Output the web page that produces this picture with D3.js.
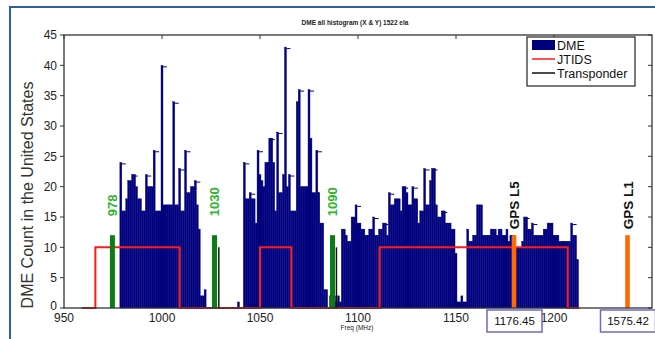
<!DOCTYPE html>
<html><head><meta charset="utf-8">
<script src="https://cdn.jsdelivr.net/npm/d3@7"></script>
<style>body{margin:0;background:#fff;} svg{display:block;font-family:"Liberation Sans",Arial,sans-serif;}</style>
</head><body><svg id="c" width="655" height="339"></svg>
<script>
// ---------- data ----------
const dmeStartFreq = 960; // MHz of first DME bin (1 MHz bins)
const dmeCounts = [
  0,0,0,0,0,0,0,0,0,0,            // 960-969
  0,0,0,0,0,0,0,0,0,24,           // 970-979
  16,16,18,21,21,22,22,20,18,18,  // 980-989
  16,16,22,20,20,20,26,16,16,16,  // 990-999
  40,17,17,17,17,17,34,17,17,23,  // 1000-1009
  16,16,26,19,19,20,20,21,17,13,  // 1010-1019
  2,2,3,0,0,0,0,0,0,0,            // 1020-1029
  0,0,0,0,0,0,0,0,0,1,            // 1030-1039
  0,0,24,18,18,19,18,18,14,26,    // 1040-1049
  22,21,20,24,24,28,28,24,16,29,  // 1050-1059
  19,19,22,43,20,22,16,16,16,34,  // 1060-1069
  36,20,20,20,20,36,28,19,19,26,  // 1070-1079
  19,14,14,3,3,0,2,0,2,1,         // 1080-1089
  2,1,13,13,12,11,11,15,15,17,    // 1090-1099
  14,14,13,13,12,12,13,13,15,12,  // 1100-1109
  12,13,13,14,14,12,19,17,17,18,  // 1110-1119
  18,18,16,20,20,19,17,17,20,18,  // 1120-1129
  18,14,16,16,23,17,17,21,23,23,  // 1130-1139
  17,15,15,16,16,14,14,14,13,13,  // 1140-1149
  9,1,1,2,1,1,13,11,11,12,        // 1150-1159
  12,17,17,17,12,12,12,12,13,13,  // 1160-1169
  13,12,13,13,12,12,13,11,12,12,  // 1170-1179
  10,10,10,10,11,15,15,13,13,14,  // 1180-1189
  12,12,12,12,12,13,13,14,14,14,  // 1190-1199
  12,12,12,11,11,11,11,11,11,14,  // 1200-1209
  12,12,8                         // 1210-1212
];
const jtidsFreq  = [959,966,966,1009,1009,1050,1050,1066,1066,1111,1111,1207,1207,1213];
const jtidsLevel = [0,0,10,10,0,0,10,10,0,0,10,10,0,0];
const transponderFreq  = [1029, 1089];
const transponderLevel = [10, 10];
const markerFreq   = [974.7, 1026.8, 1087];
const markerLevel  = [12, 12, 12];
const markerLabels = ["978", "1030", "1090"];
const gpsFreq      = [1179.6, 1237.5];
const gpsLevel     = [12, 12];
const gpsLabels    = ["GPS L5", "GPS L1"];
const gpsBoxLabels = ["1176.45", "1575.42"];
const xTicks = [950, 1000, 1050, 1100, 1150, 1200];
const yTicks = [0, 5, 10, 15, 20, 25, 30, 35, 40, 45];
const titleText = "DME all histogram (X & Y) 1522 ela";
const xLabel = "Freq (MHz)";
const yLabel = "DME Count in the United States";
const legendLabels = ["DME", "JTIDS", "Transponder"];

// ---------- drawing ----------
const svg = d3.select("#c");
const x = d3.scaleLinear().domain([950, 1250]).range([64, 652]);
const y = d3.scaleLinear().domain([0, 45]).range([308, 35]);
const NAVY = "#00007f", RED = "#ff1a1a", GREEN = "#0a7d14", LGREEN = "#2db52d", ORANGE = "#ff6a00";

// outer figure frame (blue)
svg.append("path").attr("d", "M10,339 L10,7 L655,7")
  .attr("fill", "none").attr("stroke", "#2f5f9f").attr("stroke-width", 2);

// title
svg.append("text").attr("x", 355).attr("y", 25).attr("text-anchor", "middle")
  .attr("font-size", 6.5).attr("font-weight", "bold").attr("fill", "#222").text(titleText);

// DME bars
const dme = dmeCounts.map((v, i) => ({ f: dmeStartFreq + i, v }));
svg.append("g").selectAll("rect").data(dme).join("rect")
  .attr("x", d => x(d.f - 0.5)).attr("width", d => x(d.f + 0.5) - x(d.f - 0.5))
  .attr("y", d => y(d.v)).attr("height", d => y(0) - y(d.v))
  .attr("fill", NAVY).attr("stroke", NAVY).attr("stroke-width", 0.4);

// small caps at local peaks
const peaks = dme.filter((d, i) => d.v >= 14 && (i === 0 || d.v > dme[i - 1].v) && (i === dme.length - 1 || d.v >= dme[i + 1].v));
svg.append("g").selectAll("line").data(peaks).join("line")
  .attr("x1", d => x(d.f + 0.5)).attr("x2", d => x(d.f + 0.5) + 4)
  .attr("y1", d => y(d.v) + 1.5).attr("y2", d => y(d.v) + 1.5)
  .attr("stroke", NAVY).attr("stroke-width", 1);

// JTIDS line
const jt = jtidsFreq.map((f, i) => [f, jtidsLevel[i]]);
svg.append("path").datum(jt)
  .attr("d", d3.line().x(d => x(d[0])).y(d => y(d[1])))
  .attr("fill", "none").attr("stroke", RED).attr("stroke-width", 2);

// Transponder lines
svg.append("g").selectAll("line").data(transponderFreq).join("line")
  .attr("x1", d => x(d)).attr("x2", d => x(d))
  .attr("y1", y(0)).attr("y2", (d, i) => y(transponderLevel[i]))
  .attr("stroke", "#111").attr("stroke-width", 1.5);

// green markers
svg.append("g").selectAll("rect").data(markerFreq).join("rect")
  .attr("x", d => x(d) - 2.5).attr("width", 5)
  .attr("y", (d, i) => y(markerLevel[i])).attr("height", (d, i) => y(0) - y(markerLevel[i]))
  .attr("fill", GREEN);
svg.append("g").selectAll("text").data(markerFreq).join("text")
  .attr("transform", (d, i) => `translate(${x(d) + 4.5},${y(markerLevel[i]) - 19}) rotate(-90)`)
  .attr("font-size", 13).attr("font-weight", "bold").attr("fill", LGREEN)
  .text((d, i) => markerLabels[i]);

// GPS markers
svg.append("g").selectAll("rect").data(gpsFreq).join("rect")
  .attr("x", d => x(d) - 2.3).attr("width", 4.6)
  .attr("y", (d, i) => y(gpsLevel[i])).attr("height", (d, i) => y(0) - y(gpsLevel[i]))
  .attr("fill", ORANGE);
svg.append("g").selectAll("text").data(gpsFreq).join("text")
  .attr("transform", (d, i) => `translate(${x(d) + 5},${y(gpsLevel[i]) - 6}) rotate(-90)`)
  .attr("font-size", 13.5).attr("font-weight", "bold").attr("fill", "#111")
  .text((d, i) => gpsLabels[i]);

// plot frame
svg.append("rect").attr("x", x(950)).attr("y", y(45))
  .attr("width", x(1250) - x(950)).attr("height", y(0) - y(45))
  .attr("fill", "none").attr("stroke", "#333").attr("stroke-width", 1.3);

// y ticks + labels
const yt = svg.append("g");
yt.selectAll("line.l").data(yTicks).join("line").attr("class", "l")
  .attr("x1", x(950) - 4).attr("x2", x(950)).attr("y1", d => y(d)).attr("y2", d => y(d))
  .attr("stroke", "#333").attr("stroke-width", 1);
yt.selectAll("line.r").data(yTicks).join("line").attr("class", "r")
  .attr("x1", x(1250) - 4).attr("x2", x(1250)).attr("y1", d => y(d)).attr("y2", d => y(d))
  .attr("stroke", "#333").attr("stroke-width", 1);
yt.selectAll("text").data(yTicks).join("text")
  .attr("x", 57).attr("y", d => y(d) + (d === 0 ? 2 : 4.3)).attr("text-anchor", "end")
  .attr("font-size", 12).attr("fill", "#222").text(d => d);

// x ticks + labels
const xt = svg.append("g");
xt.selectAll("line").data(xTicks).join("line")
  .attr("x1", d => x(d)).attr("x2", d => x(d)).attr("y1", y(45)).attr("y2", y(45) + 4)
  .attr("stroke", "#333").attr("stroke-width", 1);
xt.selectAll("text").data(xTicks).join("text")
  .attr("x", d => x(d)).attr("y", 322).attr("text-anchor", "middle")
  .attr("font-size", 12).attr("fill", "#222").text(d => d);

// GPS frequency boxes
const bx = svg.append("g").selectAll("g").data(gpsFreq).join("g");
bx.append("rect").attr("x", d => x(d) - 27).attr("y", 310).attr("width", 55).attr("height", 22)
  .attr("fill", "#fff").attr("stroke", "#6b6bc4").attr("stroke-width", 1.5);
bx.append("text").attr("x", d => x(d) + 0.5).attr("y", 325).attr("text-anchor", "middle")
  .attr("font-size", 11.5).attr("fill", "#111").text((d, i) => gpsBoxLabels[i]);

// axis labels
svg.append("text").attr("x", 357).attr("y", 330).attr("text-anchor", "middle")
  .attr("font-size", 6.5).attr("fill", "#222").text(xLabel);
svg.append("text").attr("transform", "translate(33,195) rotate(-90)").attr("text-anchor", "middle")
  .attr("font-size", 16).attr("fill", "#333").text(yLabel);

// legend
const lg = svg.append("g");
lg.append("rect").attr("x", 527).attr("y", 37).attr("width", 108).attr("height", 49)
  .attr("fill", "#fff").attr("stroke", "#222").attr("stroke-width", 1.2);
lg.append("rect").attr("x", 532).attr("y", 40).attr("width", 23).attr("height", 10).attr("fill", NAVY);
lg.append("line").attr("x1", 532).attr("x2", 555).attr("y1", 59).attr("y2", 59).attr("stroke", RED).attr("stroke-width", 1.5);
lg.append("line").attr("x1", 532).attr("x2", 555).attr("y1", 73).attr("y2", 73).attr("stroke", "#111").attr("stroke-width", 1.5);
lg.selectAll("text").data(legendLabels).join("text")
  .attr("x", 557).attr("y", (d, i) => 50 + i * 14)
  .attr("font-size", 12.5).attr("fill", "#111").text(d => d);
</script></body></html>
